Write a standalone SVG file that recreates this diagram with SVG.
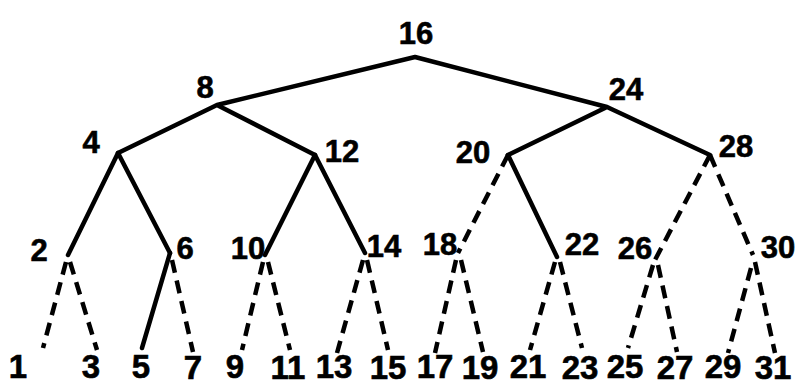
<svg xmlns="http://www.w3.org/2000/svg" width="798" height="385" viewBox="0 0 798 385">
<style>
text{font-family:"Liberation Sans","DejaVu Sans",sans-serif;font-weight:bold;font-size:31px;fill:#000;stroke:#000;stroke-width:0.6;text-anchor:middle}
text.l{font-size:33px}
.s{stroke:#000;stroke-width:4.5;fill:none;stroke-linecap:round}
.d{stroke:#000;stroke-width:4.5;fill:none;stroke-dasharray:13 8}
</style>
<rect width="798" height="385" fill="#fff"/>
<g id="connectors">
<path class="s" d="M415 57L217 105M415 57L607 107M217 105L118 153M217 105L315 155M607 107L508 155M607 107L710 155"/>
<path class="s" d="M118 153L68 255M118 153L170 253M315 155L265 255M315 155L365 253M508 155L557 257"/>
<path class="d" d="M508 155L458 253M710 155L655 260M710 155L753 255"/>
<path class="s" d="M170 253L142 348"/>
<path class="d" d="M66 262L43 348M70 262L97 350M172 260L193 352M263 262L242 350M268 262L290 350M363 260L337 353M367 260L388 350M456 260L435 353M461 260L483 352M555 262L530 350M560 262L582 348M653 265L628 348M658 265L677 352M751 268L728 353M755 262L775 353"/>
</g>
<g id="n16"><text x="416" y="44">16</text></g>
<g id="n8"><text x="205" y="98">8</text></g>
<g id="n24"><text x="626" y="100">24</text></g>
<g id="n4"><text x="91" y="153">4</text></g>
<g id="n12"><text x="342" y="162">12</text></g>
<g id="n20"><text x="473" y="163">20</text></g>
<g id="n28"><text x="736" y="157">28</text></g>
<g id="n2"><text x="39" y="261">2</text></g>
<g id="n6"><text x="185" y="259">6</text></g>
<g id="n10"><text x="248" y="259">10</text></g>
<g id="n14"><text x="384" y="257">14</text></g>
<g id="n18"><text x="440" y="255">18</text></g>
<g id="n22"><text x="582" y="255">22</text></g>
<g id="n26"><text x="635" y="259">26</text></g>
<g id="n30"><text x="778" y="258">30</text></g>
<g id="n1"><text class="l" x="18" y="378">1</text></g>
<g id="n3"><text class="l" x="91" y="378">3</text></g>
<g id="n5"><text class="l" x="141" y="378">5</text></g>
<g id="n7"><text class="l" x="193" y="379">7</text></g>
<g id="n9"><text class="l" x="235" y="378">9</text></g>
<g id="n11"><text class="l" x="288" y="379">11</text></g>
<g id="n13"><text class="l" x="334" y="378">13</text></g>
<g id="n15"><text class="l" x="388" y="379">15</text></g>
<g id="n17"><text class="l" x="435" y="378">17</text></g>
<g id="n19"><text class="l" x="480" y="379">19</text></g>
<g id="n21"><text class="l" x="528" y="378">21</text></g>
<g id="n23"><text class="l" x="580" y="379">23</text></g>
<g id="n25"><text class="l" x="625" y="378">25</text></g>
<g id="n27"><text class="l" x="675" y="379">27</text></g>
<g id="n29"><text class="l" x="723" y="378">29</text></g>
<g id="n31"><text class="l" x="773" y="379">31</text></g>
</svg>
